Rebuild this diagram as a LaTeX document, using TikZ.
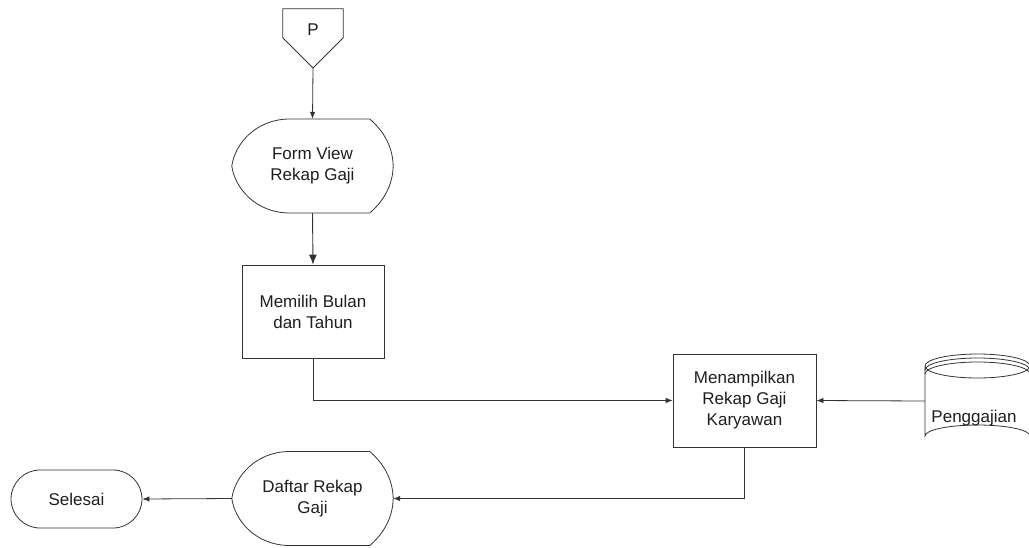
\documentclass[tikz,border=0pt]{standalone}
\usepackage{fontspec}
\setmainfont{Liberation Sans}
\usetikzlibrary{calc,arrows.meta}

\definecolor{ink}{HTML}{333333}
\definecolor{txt}{HTML}{1E1E1E}

\tikzset{
  outline/.style={draw=ink, line width=0.8pt},
  lbl/.style={text=txt, font=\fontsize{17pt}{21pt}\selectfont, align=center, inner sep=0pt},
  box/.style={lbl, outline, minimum width=#1, minimum height=93pt},
  dispbox/.style={lbl, minimum width=161pt, minimum height=94pt},
  arr/.style={draw=ink, line width=0.8pt, -{Latex[length=7pt,width=5.5pt]}},
  bigarr/.style={draw=ink, line width=0.9pt, -{Latex[length=10pt,width=8pt]}},
}

% outline of a display symbol around a node of width 161, height 94
\newcommand\dispoutline[1]{%
  \draw[outline] (#1.west)
    .. controls ($(#1.west)+(3,-22)$) and ($(#1.west)+(24,-47)$) .. ($(#1.west)+(58,-47)$)
    -- ($(#1.west)+(138,-47)$)
    .. controls ($(#1.west)+(153,-34)$) and ($(#1.west)+(161,-18)$) .. (#1.east)
    .. controls ($(#1.west)+(161,18)$) and ($(#1.west)+(153,34)$) .. ($(#1.west)+(138,47)$)
    -- ($(#1.west)+(58,47)$)
    .. controls ($(#1.west)+(24,47)$) and ($(#1.west)+(3,22)$) .. (#1.west) -- cycle;}

\begin{document}
\begin{tikzpicture}[x=1pt,y=-1pt]
\useasboundingbox (0,0) rectangle (1029,547);

% off-page connector
\node[lbl, minimum width=60pt, minimum height=42pt] (p) at (313,30) {P};
\coordinate (ptip) at (313,68);
\draw[outline] (p.north west) -- (p.north east) -- ($(p.north east)+(0,29)$)
  -- (ptip) -- ($(p.north west)+(0,29)$) -- cycle;

% form display
\node[dispbox] (fv) at (312.5,166) {Form View\\Rekap Gaji};
\dispoutline{fv}

% process: choose month and year
\node[box=142pt] (ml) at (313,311.5) {Memilih Bulan\\dan Tahun};

% process: show payroll recap
\node[box=143pt] (mn) at (744.5,400.5) {Menampilkan\\Rekap Gaji\\Karyawan};

% payroll database (cylinder)
\node[minimum width=105pt, minimum height=92pt, inner sep=0pt] (pg) at (977.5,401) {};
\draw[outline, fill=white] (925,366) -- (925,436)
  arc[start angle=180, end angle=360, x radius=52.5, y radius=11]
  -- (1030,366) arc[start angle=0, end angle=360, x radius=52.5, y radius=12];
\draw[outline] (925,370) arc[start angle=180, end angle=360, x radius=52.5, y radius=12];
\draw[outline] (925,374) arc[start angle=180, end angle=360, x radius=52.5, y radius=12];
\node[lbl] (pgt) at (974,418) {Penggajian};

% report display
\node[dispbox] (df) at (312.5,498.5) {Daftar Rekap\\Gaji};
\dispoutline{df}

% terminator
\node[lbl, outline, minimum width=131pt, minimum height=58pt, rounded corners=29pt] (se) at (76.5,499) {Selesai};

% connectors
\draw[arr] (ptip) -- (fv.north);
\draw[bigarr] (fv.south) -- (ml.north);
\draw[arr] (ml.south) |- (mn.west);
\draw[arr] (pg.west) -- (mn.east);
\draw[arr] (mn.south) |- (df.east);
\draw[arr] (df.west) -- (se.east);
\end{tikzpicture}
\end{document}
